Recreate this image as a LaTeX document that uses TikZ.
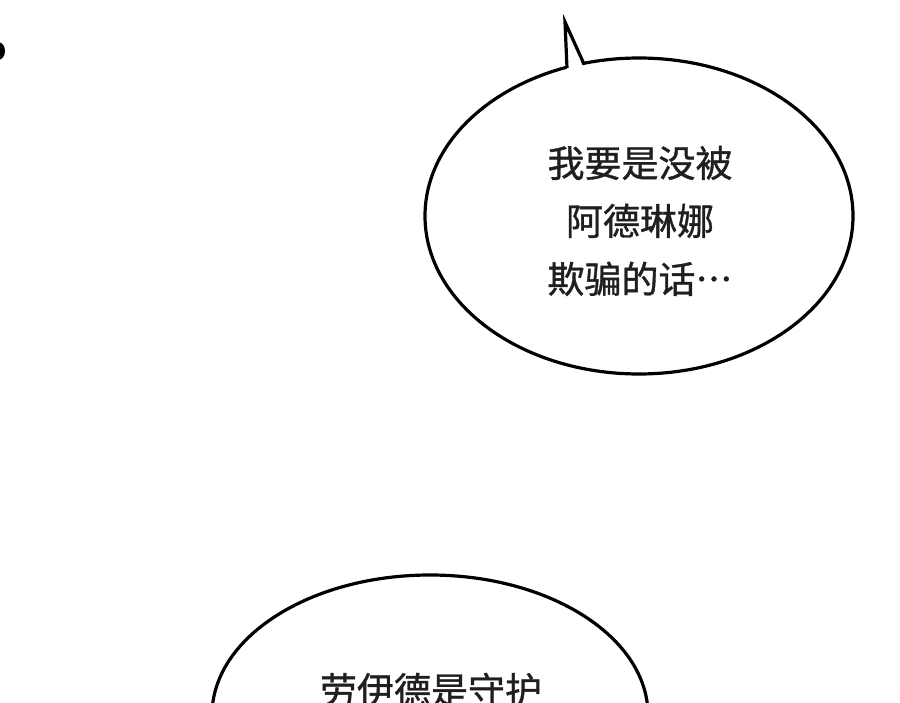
\documentclass[tikz,border=0pt]{standalone}
\usepackage{fontspec}
\newfontfamily\cjk{Noto Sans CJK SC}[Script=CJK, Language=Chinese Simplified, FakeBold=1]
\usetikzlibrary{shapes.geometric}

\begin{document}
\begin{tikzpicture}[x=1pt,y=-1pt,
  bubble/.style={draw=black, line width=3.2pt, ellipse, fill=white, inner sep=0pt},
  words/.style={align=center, font=\cjk\fontsize{37}{58}\selectfont, text=black!88}]
\useasboundingbox (0,0) rectangle (900,703);
\clip (0,0) rectangle (900,703);
\fill[white] (0,0) rectangle (900,703);
% edge of the previous bubble
\fill[black] (-2,51) ellipse [x radius=7, y radius=9];
% upper bubble
\node[bubble, minimum width=428pt, minimum height=316pt] (upper) at (639,216) {};
\coordinate (tailL) at (567,68);
\coordinate (tip) at (565,22);
\coordinate (tailR) at (584,64);
\fill[white] (567,73) -- (tip) -- (584,69) -- cycle;
\draw[line width=3.2pt, line join=miter] (tailL) -- (tip) -- (tailR);
\node[words] (upperText) at (640,221) {我要是没被\\阿德琳娜\\欺骗的话…};
% lower bubble
\node[bubble, minimum width=436pt, minimum height=280pt] (lower) at (430,715) {};
\node[words] (lowerText) at (431,690) {劳伊德是守护};
\end{tikzpicture}
\end{document}
